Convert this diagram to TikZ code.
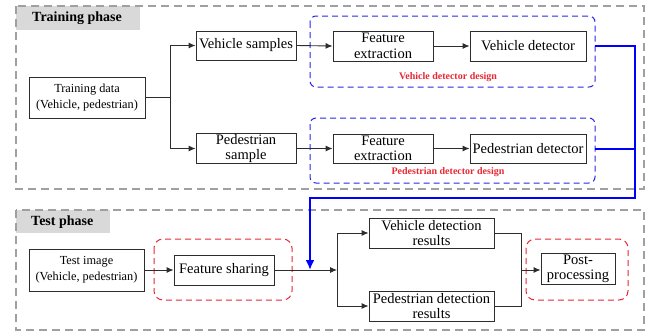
\documentclass[tikz,border=0pt]{standalone}
\usepackage{fontspec}
\setmainfont{Liberation Serif}
\usetikzlibrary{arrows.meta,positioning,calc}
\definecolor{phasegray}{RGB}{160,160,160}
\definecolor{tabgray}{RGB}{217,217,217}
\definecolor{lineg}{RGB}{45,45,45}
\definecolor{dblue}{RGB}{40,40,230}
\definecolor{dred}{RGB}{230,40,50}
\tikzset{
  box/.style={draw=lineg,line width=0.9pt,fill=white,align=center,inner sep=1pt,font=\fontsize{14.5}{15.5}\selectfont},
  smallbox/.style={box,font=\fontsize{12.3}{16}\selectfont},
  phase/.style={draw=phasegray,line width=2pt,dash pattern=on 8pt off 5pt},
  tab/.style={fill=tabgray,anchor=north west,inner sep=0pt},
  titletext/.style={anchor=west,font=\bfseries\fontsize{14}{15}\selectfont,inner sep=0pt},
  bluegroup/.style={draw=dblue,line width=1pt,dash pattern=on 6pt off 4pt,rounded corners=6pt},
  redgroup/.style={draw=dred,line width=1pt,dash pattern=on 6pt off 4pt,rounded corners=9pt},
  conn/.style={draw=lineg,line width=0.9pt},
  arr/.style={conn,-{Latex[length=7pt,width=6pt]}},
  blueconn/.style={draw=blue,line width=2.5pt},
  bluearr/.style={blueconn,-{Latex[length=10pt,width=9pt]}},
  grouplabel/.style={text=dred,font=\bfseries\fontsize{10}{11}\selectfont,inner sep=0pt}
}
\begin{document}
\begin{tikzpicture}[x=1pt,y=-1pt]
\useasboundingbox (0,0) rectangle (656,333);
% phase frames
\node[tab,minimum width=124pt,minimum height=24pt] (traintab) at (16,6) {};
\node[titletext] (traintitle) at (32,18) {Training phase};
\draw[phase] (16,6) rectangle (644,189);
\node[tab,minimum width=94pt,minimum height=23pt] (testtab) at (16,210) {};
\node[titletext] (testtitle) at (31,222) {Test phase};
\draw[phase] (16,210) rectangle (644,330);
% groups
\draw[bluegroup] (310,16) rectangle (595,87);
\draw[bluegroup] (310,118) rectangle (595,183);
\coordinate (g1e) at (595,46);
\coordinate (g2e) at (595,149);
\node[grouplabel] (vdd) at (448,77) {Vehicle detector design};
\node[grouplabel] (pdd) at (448,172) {Pedestrian detector design};
\draw[redgroup] (154,239) rectangle (292,300);
\draw[redgroup] (526,239) rectangle (628,300);
% training nodes
\node[smallbox,minimum width=116pt,minimum height=41pt] (td) at (87,97.5) {Training data\\(Vehicle, pedestrian)};
\node[box,minimum width=100pt,minimum height=29pt] (vs) at (246,45.5) {Vehicle samples};
\node[box,minimum width=100pt,minimum height=29pt] (ps) at (246,148.5) {Pedestrian\\sample};
\node[box,minimum width=100pt,minimum height=30pt] (fe1) at (383,46) {Feature\\extraction};
\node[box,minimum width=116pt,minimum height=30pt] (vd) at (528,46) {Vehicle detector};
\node[box,minimum width=100pt,minimum height=29pt] (fe2) at (383,148.5) {Feature\\extraction};
\node[box,minimum width=116pt,minimum height=29pt] (pd) at (528,148.5) {Pedestrian detector};
% test nodes
\node[smallbox,minimum width=115pt,minimum height=42pt] (ti) at (86.5,270) {Test image\\(Vehicle, pedestrian)};
\node[box,minimum width=100pt,minimum height=30pt] (fs) at (224,270) {Feature sharing};
\node[box,minimum width=125pt,minimum height=30pt] (vdr) at (431.5,233) {Vehicle detection\\results};
\node[box,minimum width=125pt,minimum height=30pt] (pdr) at (431.5,306) {Pedestrian detection\\results};
\node[box,minimum width=74pt,minimum height=30pt] (pp) at (578,269) {Post-\\processing};
% training connectors
\coordinate (tsplit) at (170,97.5);
\draw[conn] (td.east) -- (tsplit);
\draw[arr] (tsplit) |- (vs.west);
\draw[arr] (tsplit) |- (ps.west);
\draw[arr] (vs.east) -- (fe1.west);
\draw[arr] (ps.east) -- (fe2.west);
\draw[arr] (fe1.east) -- (vd.west);
\draw[arr] (fe2.east) -- (pd.west);
% test connectors
\draw[arr] (ti.east) -- (fs.west);
\coordinate (jn) at (337,270);
\coordinate (bluehit) at (310,270);
\draw[arr] (fs.east) -- (jn);
\draw[arr] (jn) |- (vdr.west);
\draw[arr] (jn) |- (pdr.west);
\coordinate (rjoin) at (521,270);
\draw[conn] (vdr.east) -| (rjoin);
\draw[conn] (pdr.east) -| (rjoin);
\draw[arr] (rjoin) -- (pp.west |- rjoin);
% blue connector
\coordinate (bc1) at (635,46);
\coordinate (bc2) at (635,198);
\coordinate (bc3) at (310,198);
\draw[blueconn] (g2e) -- (g2e -| bc1);
\draw[bluearr] (g1e) -- (bc1) -- (bc2) -- (bc3) -- (bluehit);
\end{tikzpicture}
\end{document}
